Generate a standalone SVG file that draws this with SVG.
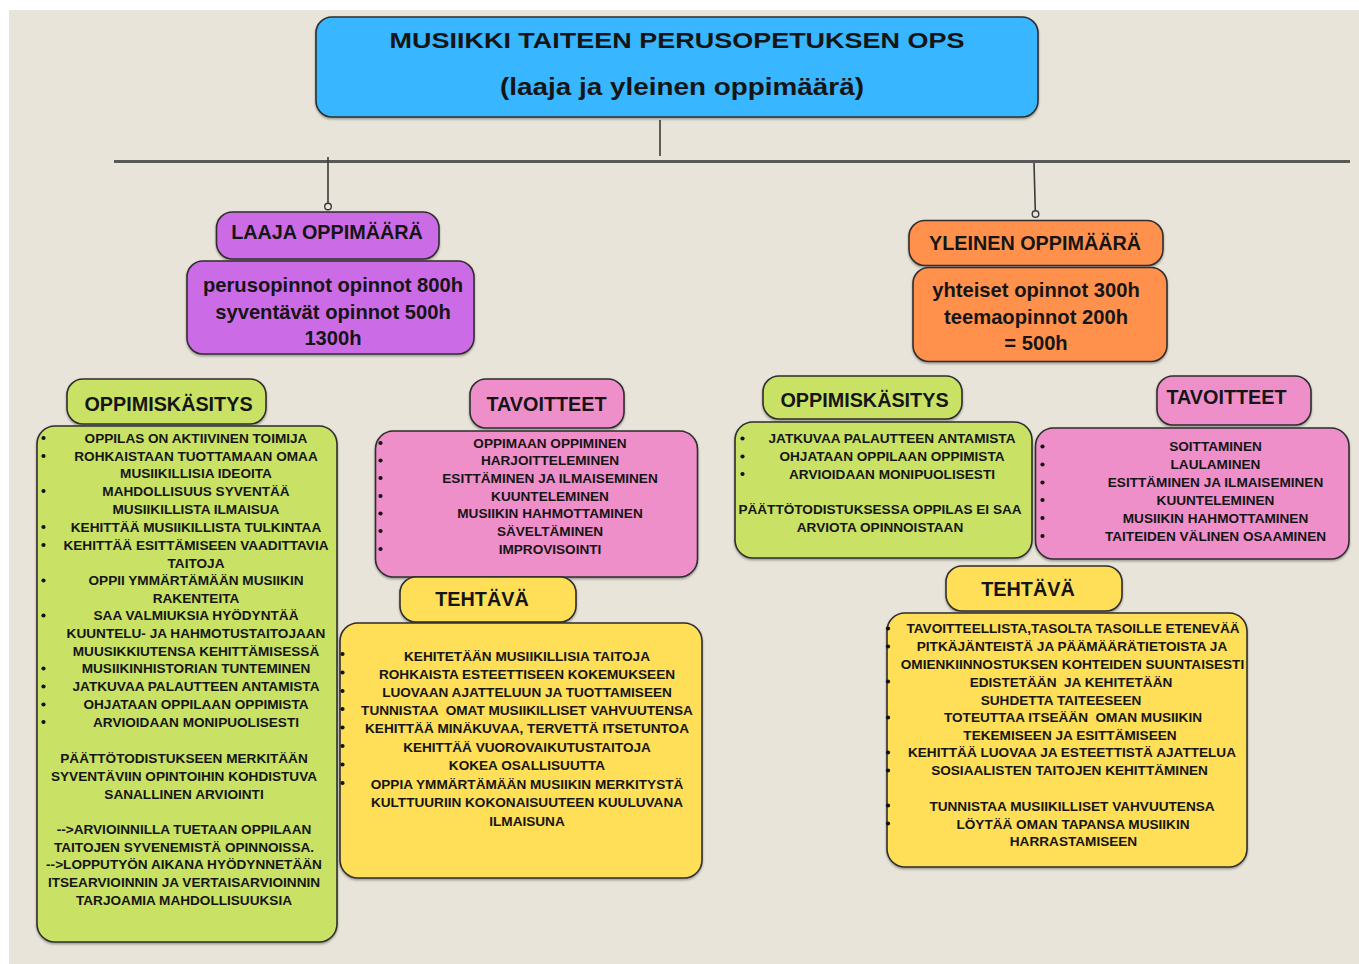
<svg xmlns="http://www.w3.org/2000/svg" width="1359" height="964" viewBox="0 0 1359 964">
<defs>
<filter id="sh" x="-5%" y="-5%" width="110%" height="115%">
<feDropShadow dx="0" dy="1.5" stdDeviation="1" flood-color="#000" flood-opacity="0.35"/>
</filter>
<circle id="b" r="2.1" fill="#111"/>
</defs>
<style>
text{font-family:"Liberation Sans",Arial,sans-serif;font-weight:bold;fill:#151515;text-anchor:middle;dominant-baseline:central;white-space:pre}
.s{font-size:13.6px}
.h{font-size:19.8px}
.m{font-size:20.2px}
.box{stroke:#2e2e2e;stroke-width:1.6;filter:url(#sh)}
.blue{fill:#38b6ff}.purple{fill:#cb6ce6}.orange{fill:#ff914d}.green{fill:#c9e265}.pink{fill:#ef8fca}.yellow{fill:#ffde59}
.ln{stroke:#3a3a3a;stroke-width:1.6;fill:none}
</style>
<rect x="0" y="0" width="1359" height="964" fill="#ffffff"/>
<rect x="9" y="10" width="1350" height="954" fill="#e8e4d9"/>

<g id="connectors">
<line x1="114" y1="161.5" x2="1350" y2="161.5" stroke="#5a5855" stroke-width="3"/>
<line class="ln" x1="660" y1="120" x2="660" y2="156"/>
<line class="ln" x1="328" y1="157" x2="328" y2="203"/>
<circle cx="328" cy="206.5" r="3.3" fill="#e8e4d9" stroke="#3a3a3a" stroke-width="1.4"/>
<line class="ln" x1="1034" y1="163" x2="1035.3" y2="210.7"/>
<circle cx="1035.5" cy="214" r="3.3" fill="#e8e4d9" stroke="#3a3a3a" stroke-width="1.4"/>
</g>

<g id="title">
<rect class="box blue" x="316" y="17" width="722" height="100" rx="16"/>
<text x="677" y="40" font-size="22" textLength="575" lengthAdjust="spacingAndGlyphs">MUSIIKKI TAITEEN PERUSOPETUKSEN OPS</text>
<text x="682" y="86" font-size="24" textLength="364" lengthAdjust="spacingAndGlyphs">(laaja ja yleinen oppimäärä)</text>
</g>

<g id="laaja-oppimaara">
<rect class="box purple" x="216.5" y="212" width="222.5" height="47" rx="16"/>
<text class="h" x="327" y="231.5">LAAJA OPPIMÄÄRÄ</text>
</g>
<g id="laaja-tunnit">
<rect class="box purple" x="187" y="261" width="287" height="93" rx="16"/>
<text class="m" x="333" y="285">perusopinnot opinnot 800h</text>
<text class="m" x="333" y="311.5">syventävät opinnot 500h</text>
<text class="m" x="333" y="338">1300h</text>
</g>

<g id="yleinen-oppimaara">
<rect class="box orange" x="909" y="220.5" width="254" height="45" rx="16"/>
<text class="h" x="1035" y="242.5">YLEINEN OPPIMÄÄRÄ</text>
</g>
<g id="yleinen-tunnit">
<rect class="box orange" x="913" y="267.5" width="254" height="94" rx="16"/>
<text class="m" x="1036" y="290">yhteiset opinnot 300h</text>
<text class="m" x="1036" y="316.5">teemaopinnot 200h</text>
<text class="m" x="1036" y="343">= 500h</text>
</g>

<g id="laaja-oppimiskasitys-otsikko">
<rect class="box green" x="67" y="379" width="199" height="45" rx="16"/>
<text class="h" x="168.5" y="404">OPPIMISKÄSITYS</text>
</g>
<g id="laaja-oppimiskasitys">
<rect class="box green" x="37" y="426" width="300" height="516" rx="18"/>
<g class="s">
<text x="196" y="438">OPPILAS ON AKTIIVINEN TOIMIJA</text>
<text x="196" y="456">ROHKAISTAAN TUOTTAMAAN OMAA</text>
<text x="196" y="473.5">MUSIIKILLISIA IDEOITA</text>
<text x="196" y="491">MAHDOLLISUUS SYVENTÄÄ</text>
<text x="196" y="509">MUSIIKILLISTA ILMAISUA</text>
<text x="196" y="527">KEHITTÄÄ MUSIIKILLISTA TULKINTAA</text>
<text x="196" y="545">KEHITTÄÄ ESITTÄMISEEN VAADITTAVIA</text>
<text x="196" y="563">TAITOJA</text>
<text x="196" y="580.5">OPPII YMMÄRTÄMÄÄN MUSIIKIN</text>
<text x="196" y="598">RAKENTEITA</text>
<text x="196" y="615.5">SAA VALMIUKSIA HYÖDYNTÄÄ</text>
<text x="196" y="633">KUUNTELU- JA HAHMOTUSTAITOJAAN</text>
<text x="196" y="651">MUUSIKKIUTENSA KEHITTÄMISESSÄ</text>
<text x="196" y="668.5">MUSIIKINHISTORIAN TUNTEMINEN</text>
<text x="196" y="686.5">JATKUVAA PALAUTTEEN ANTAMISTA</text>
<text x="196" y="704.5">OHJATAAN OPPILAAN OPPIMISTA</text>
<text x="196" y="722">ARVIOIDAAN MONIPUOLISESTI</text>
<text x="184" y="758">PÄÄTTÖTODISTUKSEEN MERKITÄÄN</text>
<text x="184" y="776">SYVENTÄVIIN OPINTOIHIN KOHDISTUVA</text>
<text x="184" y="794">SANALLINEN ARVIOINTI</text>
<text x="184" y="829">--&gt;ARVIOINNILLA TUETAAN OPPILAAN</text>
<text x="184" y="847">TAITOJEN SYVENEMISTÄ OPINNOISSA.</text>
<text x="184" y="864.5">--&gt;LOPPUTYÖN AIKANA HYÖDYNNETÄÄN</text>
<text x="184" y="882.5">ITSEARVIOINNIN JA VERTAISARVIOINNIN</text>
<text x="184" y="900">TARJOAMIA MAHDOLLISUUKSIA</text>
</g>
<use href="#b" x="43.5" y="438"/><use href="#b" x="43.5" y="456"/><use href="#b" x="43.5" y="491"/>
<use href="#b" x="43.5" y="527"/><use href="#b" x="43.5" y="545"/><use href="#b" x="43.5" y="580.5"/>
<use href="#b" x="43.5" y="615.5"/><use href="#b" x="43.5" y="668.5"/><use href="#b" x="43.5" y="686.5"/>
<use href="#b" x="43.5" y="704.5"/><use href="#b" x="43.5" y="722"/>
</g>

<g id="laaja-tavoitteet-otsikko">
<rect class="box pink" x="470" y="379" width="154" height="49" rx="16"/>
<text class="h" x="546.5" y="404">TAVOITTEET</text>
</g>
<g id="laaja-tavoitteet">
<rect class="box pink" x="375.5" y="431" width="322" height="146" rx="18"/>
<g class="s">
<text x="550" y="443">OPPIMAAN OPPIMINEN</text>
<text x="550" y="460.5">HARJOITTELEMINEN</text>
<text x="550" y="478">ESITTÄMINEN JA ILMAISEMINEN</text>
<text x="550" y="496">KUUNTELEMINEN</text>
<text x="550" y="513.5">MUSIIKIN HAHMOTTAMINEN</text>
<text x="550" y="531">SÄVELTÄMINEN</text>
<text x="550" y="549">IMPROVISOINTI</text>
</g>
<use href="#b" x="380.5" y="443"/><use href="#b" x="380.5" y="460.5"/><use href="#b" x="380.5" y="478"/>
<use href="#b" x="380.5" y="496"/><use href="#b" x="380.5" y="513.5"/><use href="#b" x="380.5" y="531"/>
<use href="#b" x="380.5" y="549"/>
</g>

<g id="laaja-tehtava-otsikko">
<rect class="box yellow" x="400" y="577" width="176" height="45" rx="16"/>
<text class="h" x="482" y="599">TEHTÄVÄ</text>
</g>
<g id="laaja-tehtava">
<rect class="box yellow" x="340" y="623" width="362" height="255" rx="18"/>
<g class="s">
<text x="527" y="656">KEHITETÄÄN MUSIIKILLISIA TAITOJA</text>
<text x="527" y="674">ROHKAISTA ESTEETTISEEN KOKEMUKSEEN</text>
<text x="527" y="692">LUOVAAN AJATTELUUN JA TUOTTAMISEEN</text>
<text x="527" y="710">TUNNISTAA  OMAT MUSIIKILLISET VAHVUUTENSA</text>
<text x="527" y="728.5">KEHITTÄÄ MINÄKUVAA, TERVETTÄ ITSETUNTOA</text>
<text x="527" y="747">KEHITTÄÄ VUOROVAIKUTUSTAITOJA</text>
<text x="527" y="765">KOKEA OSALLISUUTTA</text>
<text x="527" y="784">OPPIA YMMÄRTÄMÄÄN MUSIIKIN MERKITYSTÄ</text>
<text x="527" y="802.5">KULTTUURIIN KOKONAISUUTEEN KUULUVANA</text>
<text x="527" y="821">ILMAISUNA</text>
</g>
<use href="#b" x="342.5" y="654"/><use href="#b" x="342.5" y="672.5"/><use href="#b" x="342.5" y="691"/>
<use href="#b" x="342.5" y="709"/><use href="#b" x="342.5" y="727.5"/><use href="#b" x="342.5" y="746"/>
<use href="#b" x="342.5" y="764.5"/><use href="#b" x="342.5" y="783"/>
</g>

<g id="yleinen-oppimiskasitys-otsikko">
<rect class="box green" x="763" y="376" width="199" height="43" rx="16"/>
<text class="h" x="864.5" y="399.5">OPPIMISKÄSITYS</text>
</g>
<g id="yleinen-oppimiskasitys">
<rect class="box green" x="735" y="422" width="297" height="136" rx="18"/>
<g class="s">
<text x="892" y="438.5">JATKUVAA PALAUTTEEN ANTAMISTA</text>
<text x="892" y="456.5">OHJATAAN OPPILAAN OPPIMISTA</text>
<text x="892" y="474">ARVIOIDAAN MONIPUOLISESTI</text>
<text x="880" y="509.5">PÄÄTTÖTODISTUKSESSA OPPILAS EI SAA</text>
<text x="880" y="527.5">ARVIOTA OPINNOISTAAN</text>
</g>
<use href="#b" x="742.5" y="438.5"/><use href="#b" x="742.5" y="456.5"/><use href="#b" x="742.5" y="474"/>
</g>

<g id="yleinen-tavoitteet-otsikko">
<rect class="box pink" x="1157" y="376" width="154" height="49" rx="16"/>
<text class="h" x="1226.5" y="397">TAVOITTEET</text>
</g>
<g id="yleinen-tavoitteet">
<rect class="box pink" x="1035.5" y="428" width="313.5" height="131" rx="18"/>
<g class="s">
<text x="1215.5" y="446.5">SOITTAMINEN</text>
<text x="1215.5" y="464.5">LAULAMINEN</text>
<text x="1215.5" y="482.5">ESITTÄMINEN JA ILMAISEMINEN</text>
<text x="1215.5" y="500">KUUNTELEMINEN</text>
<text x="1215.5" y="518">MUSIIKIN HAHMOTTAMINEN</text>
<text x="1215.5" y="536">TAITEIDEN VÄLINEN OSAAMINEN</text>
</g>
<use href="#b" x="1042.5" y="446.5"/><use href="#b" x="1042.5" y="464.5"/><use href="#b" x="1042.5" y="482.5"/>
<use href="#b" x="1042.5" y="500"/><use href="#b" x="1042.5" y="518"/><use href="#b" x="1042.5" y="536"/>
</g>

<g id="yleinen-tehtava-otsikko">
<rect class="box yellow" x="946" y="566" width="176" height="45" rx="16"/>
<text class="h" x="1028" y="589">TEHTÄVÄ</text>
</g>
<g id="yleinen-tehtava">
<rect class="box yellow" x="887" y="613" width="360" height="254" rx="18"/>
<g class="s">
<text x="1073" y="628.5">TAVOITTEELLISTA,TASOLTA TASOILLE ETENEVÄÄ</text>
<text x="1072" y="646.5">PITKÄJÄNTEISTÄ JA PÄÄMÄÄRÄTIETOISTA JA</text>
<text x="1072.5" y="664.5">OMIENKIINNOSTUKSEN KOHTEIDEN SUUNTAISESTI</text>
<text x="1071" y="682">EDISTETÄÄN  JA KEHITETÄÄN</text>
<text x="1061" y="700">SUHDETTA TAITEESEEN</text>
<text x="1073" y="717.5">TOTEUTTAA ITSEÄÄN  OMAN MUSIIKIN</text>
<text x="1070" y="735">TEKEMISEEN JA ESITTÄMISEEN</text>
<text x="1072" y="752.5">KEHITTÄÄ LUOVAA JA ESTEETTISTÄ AJATTELUA</text>
<text x="1069.5" y="770.5">SOSIAALISTEN TAITOJEN KEHITTÄMINEN</text>
<text x="1072" y="806">TUNNISTAA MUSIIKILLISET VAHVUUTENSA</text>
<text x="1073" y="824">LÖYTÄÄ OMAN TAPANSA MUSIIKIN</text>
<text x="1073.5" y="841.5">HARRASTAMISEEN</text>
</g>
<use href="#b" x="888" y="628.5"/><use href="#b" x="888" y="646.5"/><use href="#b" x="888" y="681.5"/>
<use href="#b" x="888" y="717.5"/><use href="#b" x="888" y="752.5"/><use href="#b" x="888" y="770.5"/>
<use href="#b" x="888" y="805.5"/><use href="#b" x="888" y="823.5"/>
</g>
</svg>
